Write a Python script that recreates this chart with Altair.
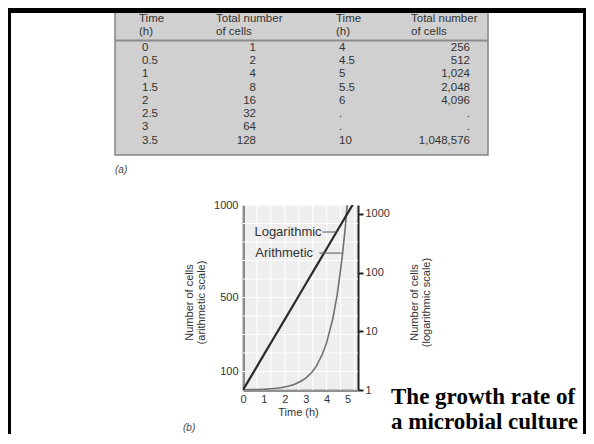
import altair as alt
import pandas as pd

# ---------------- data ----------------
# table (a)
header_time = ["Time", "(h)"]
header_cells = ["Total number", "of cells"]
time_left = ["0", "0.5", "1", "1.5", "2", "2.5", "3", "3.5"]
cells_left = ["1", "2", "4", "8", "16", "32", "64", "128"]
time_right = ["4", "4.5", "5", "5.5", "6", ".", ".", "10"]
cells_right = ["256", "512", "1,024", "2,048", "4,096", ".", ".", "1,048,576"]

# plot (b): the same numbers as the table
hours = [0, 0.5, 1, 1.5, 2, 2.5, 3, 3.5, 4, 4.5, 5, 5.5, 6]
cells = [1, 2, 4, 8, 16, 32, 64, 128, 256, 512, 1024, 2048, 4096]

x_labels = [0, 1, 2, 3, 4, 5]
lin_labels = [100, 500, 1000]
log_labels = [1, 10, 100, 1000]
grid_hours = [0, 0.667, 1.333, 2, 2.667, 3.333, 4, 4.667, 5.333]
grid_cells = [0, 100, 200, 300, 400, 500, 600, 700, 800, 900, 1000]

ann_labels = ["Logarithmic", "Arithmetic"]
ann_text_end = [3.76, 3.35]     # hours
ann_rule_start = [3.80, 3.65]   # hours
ann_rule_end = [4.47, 4.76]     # hours
ann_level = [854, 740]          # cells, arithmetic scale

title_lines = ["The growth rate of", "a microbial culture"]

# ---------------- layout ----------------
W, H = 115, 185
PAD = {"left": 235, "top": 197, "right": 228, "bottom": 44}
FONT = "Liberation Sans"
INK = "#333333"


def vx(px):
    return px - 243


def vy(py):
    return py - 205


one = pd.DataFrame({"k": [0]})
series = pd.DataFrame({"t": hours, "n": cells})

tbl = pd.DataFrame({
    "block": [0] * 8 + [1] * 8,
    "row": list(range(8)) * 2,
    "time": time_left + time_right,
    "cells": cells_left + cells_right,
})
hdr = pd.DataFrame({
    "block": [0, 1],
    "time": ["\n".join(header_time)] * 2,
    "cells": ["\n".join(header_cells)] * 2,
})
ann = pd.DataFrame({
    "label": ann_labels,
    "te": ann_text_end,
    "rs": ann_rule_start,
    "re": ann_rule_end,
    "v": ann_level,
})


def xs():
    return alt.Scale(domain=[0, 5.5], nice=False, zero=False)


def ys_lin():
    return alt.Scale(domain=[0, 1000], nice=False, zero=False)


row_y = alt.Y("row:Q", scale=alt.Scale(domain=[0, 7], range=[vy(48), vy(140.5)]), axis=None)

# ---------- table (a) ----------
table_box = alt.Chart(one).mark_rect(fill="#d0d0d0", stroke="#858585", strokeWidth=1.5).encode(
    x=alt.value(vx(115)), x2=alt.value(vx(488)), y=alt.value(vy(12)), y2=alt.value(vy(155))
)
table_sep = alt.Chart(one).mark_rule(color="#8a8a8a", strokeWidth=2).encode(
    x=alt.value(vx(115)), x2=alt.value(vx(488)), y=alt.value(vy(40.5))
)
hdr_time = alt.Chart(hdr).mark_text(
    align="left", baseline="top", lineBreak="\n", lineHeight=13, font=FONT, fontSize=11.5, color=INK
).encode(
    x=alt.X("block:Q", scale=alt.Scale(domain=[0, 1], range=[vx(139), vx(336)]), axis=None),
    y=alt.value(vy(13)),
    text="time:N",
)
hdr_cells = alt.Chart(hdr).mark_text(
    align="left", baseline="top", lineBreak="\n", lineHeight=13, font=FONT, fontSize=11.5, color=INK
).encode(
    x=alt.X("block:Q", scale=alt.Scale(domain=[0, 1], range=[vx(216), vx(411)]), axis=None),
    y=alt.value(vy(13)),
    text="cells:N",
)
body_time = alt.Chart(tbl).mark_text(
    align="left", baseline="middle", font=FONT, fontSize=11.5, color=INK
).encode(
    x=alt.X("block:Q", scale=alt.Scale(domain=[0, 1], range=[vx(142), vx(339)]), axis=None),
    y=row_y,
    text="time:N",
)
body_cells = alt.Chart(tbl).mark_text(
    align="right", baseline="middle", font=FONT, fontSize=11.5, color=INK
).encode(
    x=alt.X("block:Q", scale=alt.Scale(domain=[0, 1], range=[vx(256), vx(470)]), axis=None),
    y=row_y,
    text="cells:N",
)
label_a = alt.Chart(one).mark_text(
    align="left", baseline="middle", font=FONT, fontSize=10, fontStyle="italic", color="#444444"
).encode(x=alt.value(vx(115)), y=alt.value(vy(170)), text=alt.value("(a)"))
label_b = alt.Chart(one).mark_text(
    align="left", baseline="middle", font=FONT, fontSize=10, fontStyle="italic", color="#444444"
).encode(x=alt.value(vx(183)), y=alt.value(vy(428)), text=alt.value("(b)"))

# ---------- plot (b) ----------
grid_v = alt.Chart(pd.DataFrame({"t": grid_hours})).mark_rule(color="white", strokeWidth=1).encode(
    x=alt.X("t:Q", scale=xs(), axis=None), y=alt.value(0), y2=alt.value(H)
)
grid_h = alt.Chart(pd.DataFrame({"n": grid_cells})).mark_rule(color="white", strokeWidth=1).encode(
    y=alt.Y("n:Q", scale=ys_lin(), axis=None), x=alt.value(0), x2=alt.value(W)
)

axis_common = dict(
    domainColor="#222222", domainWidth=2, grid=False, labelFlush=False, labelOverlap=False,
    labelFont=FONT, labelFontSize=11, labelColor=INK,
    titleFont=FONT, titleFontSize=11, titleFontWeight="normal", titleColor=INK,
)

arith_line = alt.Chart(series).mark_line(
    color="#707070", strokeWidth=1.6, interpolate="monotone", clip=True
).encode(
    x=alt.X("t:Q", scale=xs(), axis=alt.Axis(
        values=x_labels, format="d", title="Time (h)", ticks=False, tickSize=0, labelPadding=3,
        titleX=55, titleY=22, titleAlign="center", titleBaseline="middle", **axis_common)),
    y=alt.Y("n:Q", scale=ys_lin(), axis=alt.Axis(
        values=lin_labels, format="d", title=["Number of cells", "(arithmetic scale)"],
        ticks=False, tickSize=0, labelPadding=5, titleAngle=270, titleX=vx(189), titleY=97,
        titleAlign="center", titleBaseline="middle", titleLineHeight=12, **axis_common)),
)

log_line = alt.Chart(series).mark_line(color="#2a2a2a", strokeWidth=2.2, clip=True).encode(
    x=alt.X("t:Q", scale=xs(), axis=None),
    y=alt.Y("n:Q", scale=alt.Scale(type="log", domain=[1, 1423], nice=False), axis=alt.Axis(
        orient="right", values=log_labels, format="d", title=["Number of cells", "(logarithmic scale)"],
        ticks=True, tickSize=5, tickWidth=2, tickColor="#222222", labelPadding=2,
        titleAngle=270, titleX=414 - 358, titleY=97, titleAlign="center", titleBaseline="middle",
        titleLineHeight=12, **axis_common)),
)

ann_rule = alt.Chart(ann).mark_rule(color="#555555", strokeWidth=1).encode(
    x=alt.X("rs:Q", scale=xs(), axis=None), x2="re:Q",
    y=alt.Y("v:Q", scale=ys_lin(), axis=None),
)
ann_txt = alt.Chart(ann).mark_text(
    align="right", baseline="middle", font=FONT, fontSize=13, color=INK
).encode(
    x=alt.X("te:Q", scale=xs(), axis=None),
    y=alt.Y("v:Q", scale=ys_lin(), axis=None),
    text="label:N",
)

# ---------- slide title and frame ----------
title_txt = alt.Chart(one).mark_text(
    align="left", baseline="middle", font="Liberation Serif", fontSize=23, fontWeight="bold",
    lineHeight=25, color="black"
).encode(x=alt.value(vx(391)), y=alt.value(vy(397)), text=alt.value(title_lines))

frame_top = alt.Chart(one).mark_rect(color="black").encode(
    x=alt.value(-PAD["left"]), x2=alt.value(W + PAD["right"]),
    y=alt.value(-PAD["top"]), y2=alt.value(-PAD["top"] + 5)
)
frame_left = alt.Chart(one).mark_rect(color="black").encode(
    x=alt.value(-PAD["left"]), x2=alt.value(-PAD["left"] + 3),
    y=alt.value(-PAD["top"]), y2=alt.value(H + PAD["bottom"])
)
frame_right = alt.Chart(one).mark_rect(color="black").encode(
    x=alt.value(W + PAD["right"] - 3), x2=alt.value(W + PAD["right"]),
    y=alt.value(-PAD["top"]), y2=alt.value(H + PAD["bottom"])
)

chart = alt.layer(
    grid_v, grid_h, arith_line, log_line, ann_rule, ann_txt,
    table_box, table_sep, frame_top, frame_left, frame_right,
    hdr_time, hdr_cells, body_time, body_cells,
    label_a, label_b, title_txt,
).resolve_scale(
    x="independent", y="independent"
).properties(
    width=W, height=H, padding=PAD, autosize=alt.AutoSizeParams(type="none"), background="white"
).configure_view(
    fill="#eeeeee", stroke="transparent"
)

chart.save("out.html", embed_options={"renderer": "svg", "actions": False})
